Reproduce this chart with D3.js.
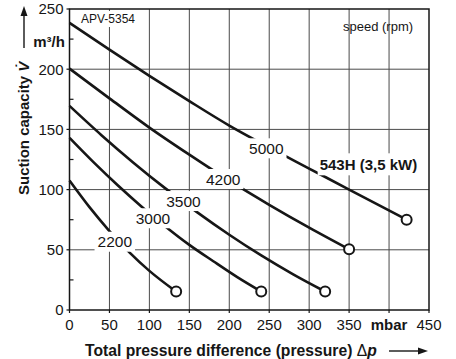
<!DOCTYPE html>
<html>
<head>
<meta charset="utf-8">
<script src="https://cdn.jsdelivr.net/npm/d3@7"></script>
<style>
  html, body { margin: 0; padding: 0; background: #fff; }
  svg { display: block; font-family: "Liberation Sans", Arial, Helvetica, sans-serif; }
</style>
</head>
<body>
<svg id="chart" width="456" height="359"></svg>
<script>
// Characteristic curves of the APV-5354 pump: suction capacity (m³/h) vs pressure difference (mbar)
const speeds = ["2200", "3000", "3500", "4200", "5000"];
const curve2200 = [[0, 107.5], [25, 85.4], [50, 65.6], [75, 47.9], [100, 32.5], [133.5, 15.3]];
const curve3000 = [[0, 143], [30, 122.8], [60, 103.8], [90, 86], [120, 69.4], [150, 54.1], [180, 40.5], [210, 27.3], [240, 15.3]];
const curve3500 = [[0, 169.5], [40, 145.2], [80, 122.4], [120, 101], [160, 81.1], [200, 62.5], [240, 45.3], [280, 29.6], [320, 15.3]];
const curve4200 = [[0, 200.5], [50, 175.8], [100, 151.5], [150, 129], [200, 107.4], [250, 87.4], [300, 68.4], [350, 50.4]];
const curve5000 = [[0, 238.5], [50, 216.2], [100, 194.5], [150, 173.5], [200, 153.2], [250, 135], [300, 117.5], [350, 100], [422, 75]];
const curves = [curve2200, curve3000, curve3500, curve4200, curve5000];

const xTickValues = [0, 50, 100, 150, 200, 250, 300, 350, 400, 450];
const xTickLabels = ["0", "50", "100", "150", "200", "250", "300", "350", "mbar", "450"];
const yTickValues = [0, 50, 100, 150, 200, 250];
const yTickLabels = ["0", "50", "100", "150", "200", "250"];
const yMinorTicks = [25, 75, 125, 175, 225];
const modelLabel = "543H (3,5 kW)";

const svg = d3.select("#chart");
const x = d3.scaleLinear().domain([0, 450]).range([69.5, 429]);
const y = d3.scaleLinear().domain([0, 250]).range([310, 9]);

const gridColor = "#4a4a4a";
const ink = "#161616";

// grid
const grid = svg.append("g");
grid.selectAll("line.v").data(xTickValues.slice(1, -1)).join("line")
  .attr("x1", d => x(d)).attr("x2", d => x(d))
  .attr("y1", y(0)).attr("y2", y(250))
  .attr("stroke", gridColor).attr("stroke-width", 1);
grid.selectAll("line.h").data(yTickValues.slice(1, -1)).join("line")
  .attr("x1", x(0)).attr("x2", x(450))
  .attr("y1", d => y(d)).attr("y2", d => y(d))
  .attr("stroke", gridColor).attr("stroke-width", 1);

// frame
svg.append("rect")
  .attr("x", x(0)).attr("y", y(250))
  .attr("width", x(450) - x(0)).attr("height", y(0) - y(250))
  .attr("fill", "none").attr("stroke", ink).attr("stroke-width", 1.5);

// y axis ticks
svg.append("g").selectAll("line").data(yTickValues).join("line")
  .attr("x1", x(0) - 3).attr("x2", x(0))
  .attr("y1", d => y(d)).attr("y2", d => y(d))
  .attr("stroke", ink).attr("stroke-width", 1.2);
svg.append("g").selectAll("line").data(yMinorTicks).join("line")
  .attr("x1", x(0)).attr("x2", x(0) + 4)
  .attr("y1", d => y(d)).attr("y2", d => y(d))
  .attr("stroke", ink).attr("stroke-width", 1.2);
// x axis ticks
svg.append("g").selectAll("line").data(xTickValues).join("line")
  .attr("x1", d => x(d)).attr("x2", d => x(d))
  .attr("y1", y(0)).attr("y2", y(0) + 3)
  .attr("stroke", ink).attr("stroke-width", 1.2);

// tick labels
svg.append("g").selectAll("text").data(yTickValues).join("text")
  .attr("x", x(0) - 6).attr("y", d => y(d) + 5.4)
  .attr("text-anchor", "end").attr("font-size", 15).attr("fill", ink)
  .text((d, i) => yTickLabels[i]);
svg.append("g").selectAll("text").data(xTickValues).join("text")
  .attr("x", d => x(d)).attr("y", 330)
  .attr("text-anchor", "middle").attr("font-size", 15).attr("fill", ink)
  .attr("font-weight", (d, i) => xTickLabels[i] === "mbar" ? "bold" : "normal")
  .text((d, i) => xTickLabels[i]);

// curves
const line = d3.line().x(d => x(d[0])).y(d => y(d[1])).curve(d3.curveMonotoneX);
svg.append("g").selectAll("path").data(curves).join("path")
  .attr("d", line)
  .attr("fill", "none").attr("stroke", ink).attr("stroke-width", 2.6)
  .attr("stroke-linecap", "butt");

// end points
svg.append("g").selectAll("circle").data(curves.map(c => c[c.length - 1])).join("circle")
  .attr("cx", d => x(d[0])).attr("cy", d => y(d[1])).attr("r", 5)
  .attr("fill", "#fff").attr("stroke", ink).attr("stroke-width", 2);

// label with a white backing box
function boxedLabel(cx, cy, txt, opts) {
  const g = svg.append("g");
  const rect = g.append("rect").attr("fill", "#fff");
  const t = g.append("text")
    .attr("x", cx).attr("y", cy + opts.size * 0.36)
    .attr("text-anchor", "middle")
    .attr("font-size", opts.size)
    .attr("font-weight", opts.weight || "normal")
    .attr("fill", ink)
    .text(txt);
  const w = t.node().getComputedTextLength();
  rect.attr("x", cx - w / 2 - opts.padX).attr("width", w + 2 * opts.padX)
    .attr("y", cy - opts.halfH).attr("height", 2 * opts.halfH);
  return g;
}

// speed labels placed along each curve (data coordinates)
const speedLabelAt = [[56.7, 56.7], [104.4, 76.2], [142.6, 90.5], [192.4, 108.8], [246.3, 134.3]];
speeds.forEach((s, i) => {
  const p = speedLabelAt[i];
  boxedLabel(x(p[0]), y(p[1]), s, { size: 15.5, padX: 3, halfH: 10 });
});
boxedLabel(x(374.2), y(121), modelLabel, { size: 15, weight: "bold", padX: 2, halfH: 11 });

// top-left model tag
boxedLabel(108, 19, "APV-5354", { size: 12, padX: 2, halfH: 8 });

// speed caption
svg.append("text").attr("x", 343).attr("y", 31).attr("font-size", 13).attr("fill", ink)
  .text("speed (rpm)");

// y axis title with arrow
const yTitle = svg.append("text")
  .attr("transform", "translate(28.5,195) rotate(-90)")
  .attr("font-size", 15).attr("font-weight", "bold").attr("fill", ink);
yTitle.append("tspan").text("Suction capacity ");
yTitle.append("tspan").attr("font-style", "italic").text("V\u0307");
svg.append("line").attr("x1", 24).attr("x2", 24).attr("y1", 48).attr("y2", 15)
  .attr("stroke", ink).attr("stroke-width", 1.4);
svg.append("path").attr("d", "M24,6 L20.5,16 L27.5,16 Z").attr("fill", ink);
svg.append("text").attr("x", 49).attr("y", 47).attr("text-anchor", "middle")
  .attr("font-size", 15).attr("font-weight", "bold").attr("fill", ink)
  .text("m³/h");

// x axis title with arrow
const xTitle = svg.append("text").attr("x", 85).attr("y", 355.5)
  .attr("font-size", 15.7).attr("font-weight", "bold").attr("fill", ink);
xTitle.append("tspan").text("Total pressure difference (pressure) ");
xTitle.append("tspan").attr("font-weight", "normal").text("\u0394");
xTitle.append("tspan").attr("font-style", "italic").text("p");
svg.append("line").attr("x1", 389).attr("x2", 419).attr("y1", 351).attr("y2", 351)
  .attr("stroke", ink).attr("stroke-width", 1.4);
svg.append("path").attr("d", "M428,351 L418,347.5 L418,354.5 Z").attr("fill", ink);
</script>
</body>
</html>
